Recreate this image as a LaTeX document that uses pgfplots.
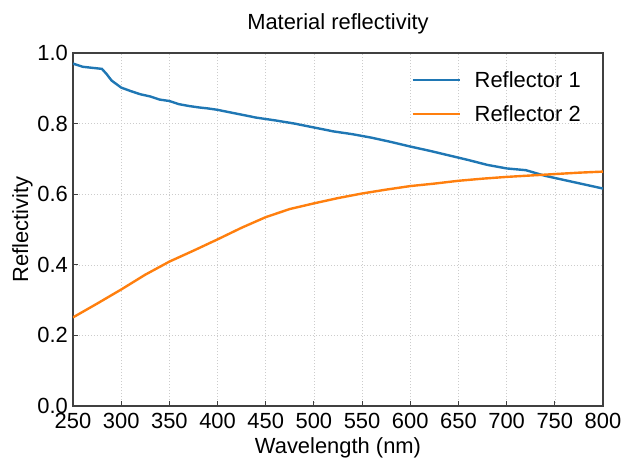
\documentclass[border=0pt]{standalone}
\usepackage{pgfplots}
\pgfplotsset{compat=1.18}
\usepackage{fontspec}
\setmainfont{Liberation Sans}
\definecolor{refblue}{HTML}{1F77B4}
\definecolor{reforange}{HTML}{FF7F0E}
\definecolor{axgray}{HTML}{404040}

\begin{document}
\begin{tikzpicture}
\begin{axis}[
  scale only axis,
  width=530bp, height=353bp,
  xmin=250, xmax=800, ymin=0, ymax=1,
  xtick={250,300,...,800},
  ytick={0,0.2,0.4,0.6,0.8,1.0},
  xtick pos=bottom, ytick pos=left,
  tick align=inside,
  major tick length=5.5bp,
  every tick/.style={axgray, line width=1.1bp},
  axis line style={axgray, line width=1.1bp},
  grid=major,
  grid style={gray!40, line width=0.5bp, dash pattern=on 1.5bp off 1.5bp},
  /pgf/number format/assume math mode=true,
  font=\fontsize{22}{26}\selectfont,
  ticklabel style={font=\fontsize{22}{26}\selectfont},
  yticklabel style={/pgf/number format/fixed, /pgf/number format/fixed zerofill,
    /pgf/number format/precision=1, inner sep=0pt, anchor=east, xshift=-5bp},
  xticklabel style={inner sep=0pt, anchor=north, yshift=-7bp},
  title={Material reflectivity},
  title style={at={(axis description cs:0.5,1.037)}, anchor=south, inner sep=0pt,
    font=\fontsize{22}{26}\selectfont},
  xlabel={Wavelength (nm)},
  xlabel style={at={(axis description cs:0.5,-0.0880)}, anchor=north, inner sep=0pt},
  ylabel={Reflectivity},
  ylabel style={at={(axis description cs:-0.0755,0.5)}, anchor=south, inner sep=0pt},
  legend style={draw=none, fill=none, inner sep=0pt,
    at={(axis description cs:0.638,0.948)}, anchor=north west,
    nodes={inner sep=0pt, font=\fontsize{22}{26}\selectfont},
    row sep=16.5bp, column sep=14bp},
  legend cell align=left,
  legend image code/.code={\draw[#1] (0bp,0bp) -- (47bp,0bp);},
]
\addplot[refblue, line width=2.4bp] coordinates {
  (250,0.970)(260,0.961)(270,0.958)(280,0.955)(285,0.940)(290,0.922)
  (300,0.902)(310,0.892)(320,0.883)(330,0.877)(340,0.868)(350,0.864)
  (360,0.855)(370,0.850)(380,0.846)(390,0.843)(400,0.839)(420,0.828)
  (440,0.817)(460,0.809)(480,0.800)(500,0.789)(520,0.778)(540,0.770)
  (560,0.760)(580,0.748)(600,0.735)(620,0.723)(640,0.710)(660,0.697)
  (680,0.683)(700,0.673)(720,0.668)(740,0.652)(760,0.640)(780,0.628)
  (800,0.616)
};
\addlegendentry{Reflector 1}
\addplot[reforange, line width=2.4bp] coordinates {
  (250,0.251)(275,0.290)(300,0.330)(325,0.372)(350,0.409)(375,0.440)
  (400,0.472)(425,0.505)(450,0.535)(475,0.558)(500,0.574)(525,0.589)
  (550,0.602)(575,0.613)(600,0.623)(625,0.630)(650,0.638)(675,0.644)
  (700,0.649)(725,0.653)(750,0.657)(775,0.661)(800,0.664)
};
\addlegendentry{Reflector 2}
\end{axis}
\pgfresetboundingbox
\path (-73bp,-56bp) rectangle (553bp,406bp);
\end{tikzpicture}
\end{document}
